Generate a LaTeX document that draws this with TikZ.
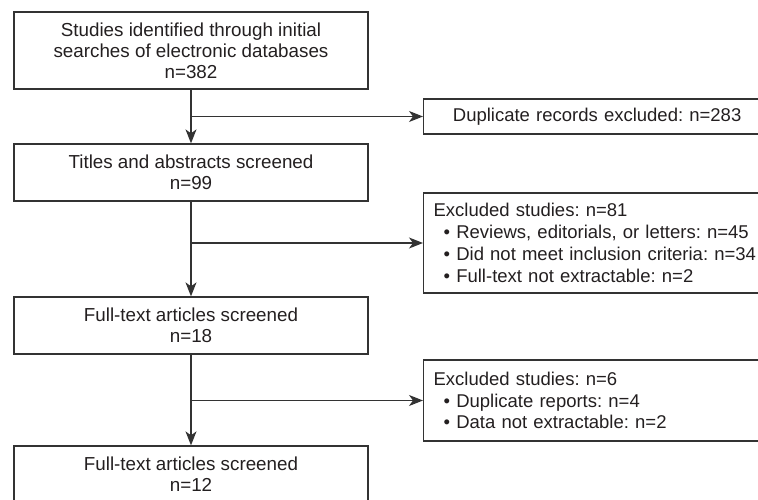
\documentclass[tikz,border=0pt]{standalone}
\usepackage{fontspec}
\setmainfont{Liberation Sans}
\usepackage{xcolor}
\usepackage{tikz}
\usetikzlibrary{arrows.meta,positioning}
\definecolor{boxline}{HTML}{333333}
\definecolor{boxtext}{HTML}{231F20}
\frenchspacing
\tikzset{
  stagebox/.style={draw=boxline,line width=1.3pt,minimum width=354pt,minimum height=57pt,align=center,text=boxtext,font=\fontsize{18.8}{21}\selectfont,inner sep=0pt},
  exclbox/.style={draw=boxline,line width=1.3pt,minimum width=347pt,anchor=west,align=left,text width=327pt,inner xsep=10pt,inner ysep=0pt,text=boxtext,font=\fontsize{18.5}{21.8}\selectfont},
  flow/.style={draw=boxline,line width=1.3pt,-{Stealth[length=14pt,width=11pt,inset=4pt]}}
}
\newcommand{\exclitem}{\hspace*{10pt}\textbullet\ }

\begin{document}
\begin{tikzpicture}[x=1pt,y=-1pt]
		\clip (0,0) rectangle (758,500);
		\node[stagebox,minimum height=77pt] (search) at (191,50.5) {Studies identified through initial\\searches of electronic databases\\n=382};
		\node[stagebox] (titles) at (191,172.5) {Titles and abstracts screened\\n=99};
		\node[stagebox] (fulltext) at (191,325.5) {Full-text articles screened\\n=18};
		\node[stagebox] (included) at (191,474.5) {Full-text articles screened\\n=12};
		\node[exclbox,minimum height=35pt,align=center] (duplicates) at (423,116.5) {Duplicate records excluded: n=283};
		\node[exclbox,minimum height=100pt] (abstractexcl) at (423,243) {Excluded studies: n=81\\\exclitem Reviews, editorials, or letters: n=45\\\exclitem Did not meet inclusion criteria: n=34\\\exclitem Full-text not extractable: n=2};
		\node[exclbox,minimum height=81pt] (fulltextexcl) at (423,400.5) {Excluded studies: n=6\\\exclitem Duplicate reports: n=4\\\exclitem Data not extractable: n=2};
		\draw[flow] (search) -- (titles);
		\draw[flow] (search.south |- duplicates.west) -- (duplicates.west);
		\draw[flow] (titles) -- (fulltext);
		\draw[flow] (titles.south |- abstractexcl.west) -- (abstractexcl.west);
		\draw[flow] (fulltext) -- (included);
		\draw[flow] (fulltext.south |- fulltextexcl.west) -- (fulltextexcl.west);
	\end{tikzpicture}
\end{document}
